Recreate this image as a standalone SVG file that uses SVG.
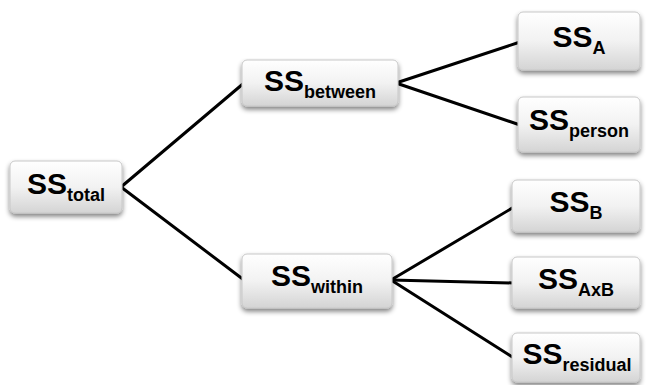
<svg xmlns="http://www.w3.org/2000/svg" width="646" height="385" viewBox="0 0 646 385">
<defs>
<linearGradient id="g" x1="0" y1="0" x2="0" y2="1">
<stop offset="0" stop-color="#ffffff"/>
<stop offset="0.5" stop-color="#f2f2f2"/>
<stop offset="1" stop-color="#d4d4d4"/>
</linearGradient>
<filter id="sh" x="-10%" y="-10%" width="120%" height="140%">
<feGaussianBlur in="SourceAlpha" stdDeviation="2.5"/>
<feOffset dx="0" dy="3" result="b"/>
<feComponentTransfer><feFuncA type="linear" slope="0.5"/></feComponentTransfer>
<feMerge><feMergeNode/><feMergeNode in="SourceGraphic"/></feMerge>
</filter>
</defs>
<style>
.box{fill:url(#g);stroke:#c8c8c8;stroke-width:1;filter:url(#sh)}
.t{font-family:"Liberation Sans",Arial,sans-serif;font-weight:bold;fill:#000;text-anchor:middle}
.m{font-size:30px}
.s{font-size:18px}
.c line{stroke:#000;stroke-width:3;stroke-linecap:round}
</style>
<g class="c" id="connectors">
<line x1="121" y1="187" x2="244" y2="83"/>
<line x1="121" y1="187" x2="244" y2="280"/>
<line x1="396" y1="83" x2="520" y2="42"/>
<line x1="396" y1="83" x2="520" y2="125"/>
<line x1="391" y1="280" x2="514" y2="207"/>
<line x1="391" y1="280" x2="514" y2="283"/>
<line x1="391" y1="280" x2="514" y2="358"/>
</g>
<g id="total"><rect class="box" x="10" y="161" width="112" height="52" rx="5"/>
<text class="t" x="66" y="194"><tspan class="m">SS</tspan><tspan class="s" dy="7">total</tspan></text></g>
<g id="between"><rect class="box" x="242" y="60" width="156" height="46" rx="5"/>
<text class="t" x="320" y="91"><tspan class="m">SS</tspan><tspan class="s" dy="7">between</tspan></text></g>
<g id="within"><rect class="box" x="242" y="254" width="150" height="54" rx="5"/>
<text class="t" x="317" y="286"><tspan class="m">SS</tspan><tspan class="s" dy="7">within</tspan></text></g>
<g id="A"><rect class="box" x="518" y="12" width="122" height="58" rx="5"/>
<text class="t" x="579" y="47"><tspan class="m">SS</tspan><tspan class="s" dy="7">A</tspan></text></g>
<g id="person"><rect class="box" x="518" y="97" width="122" height="55" rx="5"/>
<text class="t" x="579" y="130"><tspan class="m">SS</tspan><tspan class="s" dy="7">person</tspan></text></g>
<g id="B"><rect class="box" x="512" y="180" width="128" height="52" rx="5"/>
<text class="t" x="576" y="212"><tspan class="m">SS</tspan><tspan class="s" dy="7">B</tspan></text></g>
<g id="AxB"><rect class="box" x="512" y="257" width="128" height="51" rx="5"/>
<text class="t" x="576" y="289"><tspan class="m">SS</tspan><tspan class="s" dy="7">AxB</tspan></text></g>
<g id="residual"><rect class="box" x="512" y="333" width="128" height="49" rx="5"/>
<text class="t" x="577" y="364"><tspan class="m">SS</tspan><tspan class="s" dy="7">residual</tspan></text></g>
</svg>
